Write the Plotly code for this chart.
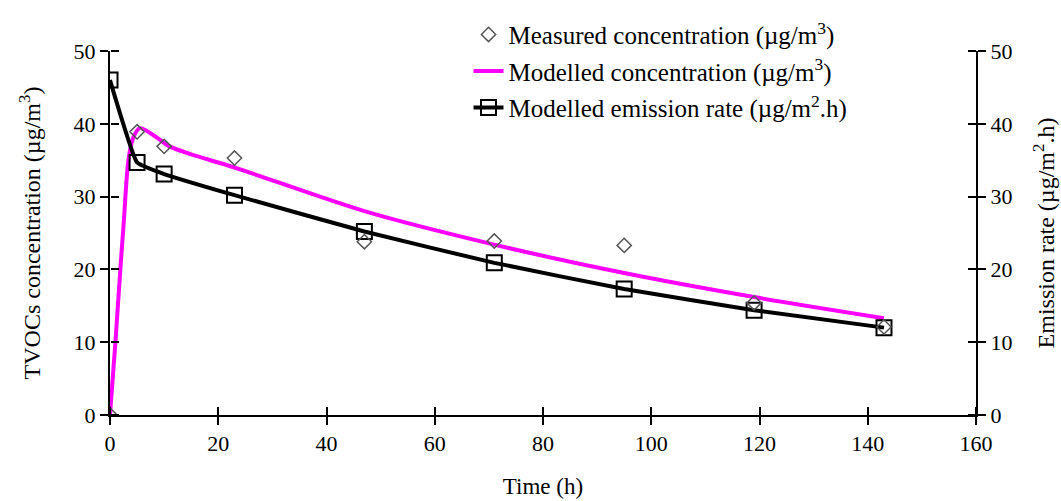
import plotly.graph_objects as go

# ---- data ----
time_measured = [0, 5, 10, 23, 47, 71, 95, 119, 143]
conc_measured = [0, 38.9, 36.9, 35.3, 23.8, 23.9, 23.3, 15.4, 12.1]

time_model = [0, 1, 2, 2.5, 3.4, 4.3, 5.5, 7.9, 11, 15, 23, 47, 71, 95, 119, 143]
conc_model = [0, 10, 21, 26, 35, 38.1, 39.4, 38.5, 36.9, 35.8, 34.0, 28.0, 23.4, 19.5, 16.2, 13.3]

time_emission = [0, 5, 10, 23, 47, 71, 95, 119, 143]
emission_rate = [46.0, 34.7, 33.1, 30.2, 25.2, 20.9, 17.3, 14.4, 12.0]

x_ticks = [0, 20, 40, 60, 80, 100, 120, 140, 160]
y_ticks = [0, 10, 20, 30, 40, 50]

FONT = "Liberation Serif"

fig = go.Figure()

fig.add_trace(go.Scatter(
    x=time_measured, y=conc_measured, mode="markers",
    name="Measured concentration (µg/m<sup>3</sup>)",
    marker=dict(symbol="diamond-open", size=11, color="#555555", line=dict(width=1.5)),
    xaxis="x2", yaxis="y3", legendgroup="a",
))
fig.add_trace(go.Scatter(
    x=time_model, y=conc_model, mode="lines",
    name="Modelled concentration (µg/m<sup>3</sup>)",
    line=dict(color="#ff00ff", width=4, shape="spline", smoothing=0.8),
    xaxis="x", yaxis="y", legendgroup="b",
))
fig.add_trace(go.Scatter(
    x=time_emission, y=emission_rate, mode="lines+markers",
    name="Modelled emission rate (µg/m<sup>2</sup>.h)",
    line=dict(color="black", width=4, shape="spline", smoothing=0.3),
    marker=dict(symbol="square-open", size=15, color="black", line=dict(width=2)),
    xaxis="x", yaxis="y2", legendgroup="c",
))
# empty helper trace so the inner-tick overlay axis on the right is drawn
fig.add_trace(go.Scatter(x=[], y=[], xaxis="x", yaxis="y4", showlegend=False,
                         hoverinfo="skip"))

axis_common = dict(showgrid=False, zeroline=False, linecolor="black", linewidth=2,
                   tickcolor="black", tickwidth=2, ticklen=8, automargin=False,
                   tickfont=dict(family=FONT, size=22, color="black"))
# overlay axes whose "outside" ticks point into the plot area -> crossing ticks
inner_ticks = dict(ticks="outside", showline=False, showticklabels=False, automargin=False,
                   showgrid=False, zeroline=False, tickcolor="black", tickwidth=2, ticklen=8)

fig.update_layout(
    width=1061, height=501,
    margin=dict(l=110, r=85, t=41, b=86),
    paper_bgcolor="white", plot_bgcolor="white",
    font=dict(family=FONT, size=22, color="black"),
    showlegend=True,
    xaxis=dict(range=[0, 160], tickvals=x_ticks, ticks="outside", showline=True,
               anchor="y",
               title=dict(text="Time (h)", font=dict(family=FONT, size=23), standoff=22),
               **axis_common),
    xaxis2=dict(range=[0, 160], tickvals=x_ticks, overlaying="x", anchor="free",
                position=0, side="top", **inner_ticks),
    yaxis=dict(range=[0, 50], tickvals=y_ticks, ticks="outside", showline=True,
               anchor="x",
               title=dict(text="TVOCs concentration (µg/m<sup>3</sup>)",
                          font=dict(family=FONT, size=24), standoff=26),
               **axis_common),
    yaxis2=dict(range=[0, 50], tickvals=y_ticks, ticks="outside", showline=True,
                overlaying="y", side="right", anchor="x",
                title=dict(text="Emission rate (µg/m<sup>2</sup>.h)",
                           font=dict(family=FONT, size=24), standoff=26),
                **axis_common),
    yaxis3=dict(range=[0, 50], tickvals=y_ticks, overlaying="y", anchor="free",
                position=0, side="right", **inner_ticks),
    yaxis4=dict(range=[0, 50], tickvals=y_ticks, overlaying="y", anchor="free",
                position=1, side="left", **inner_ticks),
    legend=dict(x=0.414, y=1.108, xanchor="left", yanchor="top",
                bgcolor="rgba(0,0,0,0)", font=dict(family=FONT, size=25, color="black"),
                tracegroupgap=1, traceorder="grouped"),
)

fig.write_html("out.html")
